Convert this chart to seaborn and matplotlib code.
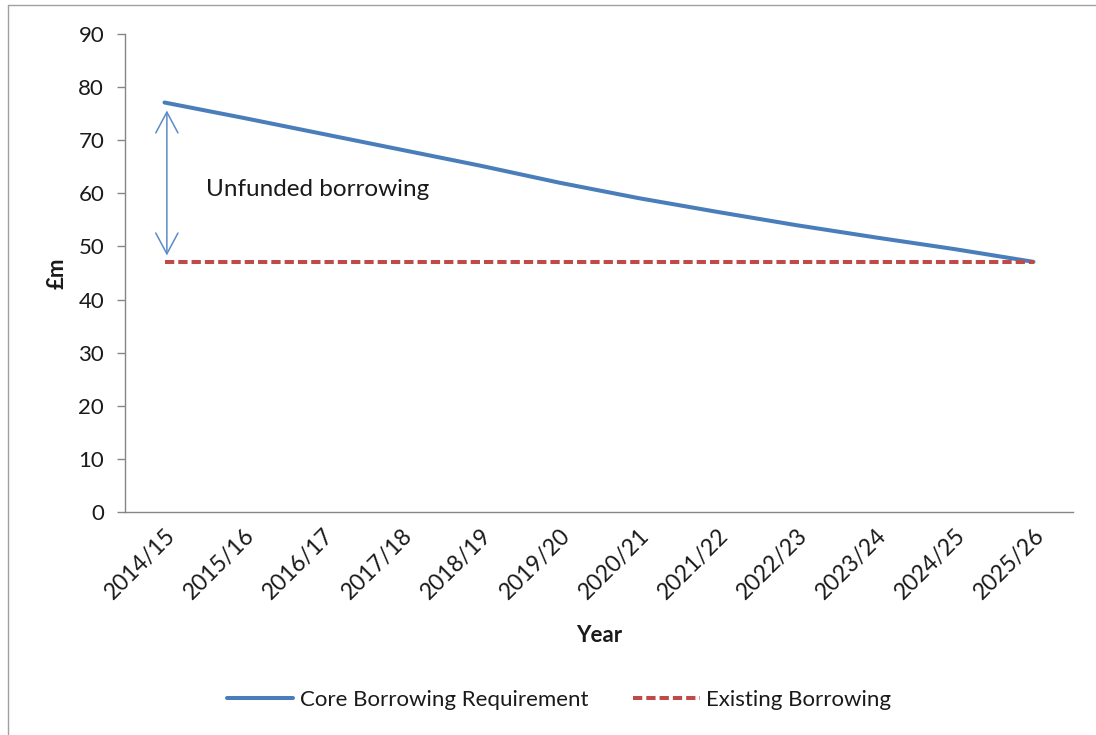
import matplotlib
matplotlib.use("Agg")
import matplotlib.pyplot as plt
import seaborn as sns
import pandas as pd
from matplotlib.lines import Line2D

years = ["2014/15", "2015/16", "2016/17", "2017/18", "2018/19", "2019/20",
         "2020/21", "2021/22", "2022/23", "2023/24", "2024/25", "2025/26"]
core_borrowing = [77.1, 74.2, 71.2, 68.2, 65.2, 62.0, 59.1, 56.5, 54.0, 51.7, 49.5, 47.1]
existing_borrowing = [47.0] * 12
series_names = ["Core Borrowing Requirement", "Existing Borrowing"]
y_ticks = [0, 10, 20, 30, 40, 50, 60, 70, 80, 90]

df = pd.DataFrame({
    "Year": years * 2,
    "Value": core_borrowing + existing_borrowing,
    "Series": [series_names[0]] * 12 + [series_names[1]] * 12,
})

sns.set_style("white")
plt.rcParams["font.family"] = ["Lato", "DejaVu Sans"]

BLUE = "#4A7EBB"
RED = "#BE4B48"
GRID = "#868686"
TXT = "#1a1a1a"

fig = plt.figure(figsize=(10.96, 7.35), dpi=100)
ax = fig.add_axes([125/1096, 1-512/735, (1073-125)/1096, (512-34)/735])

sns.lineplot(data=df, x="Year", y="Value", hue="Series", style="Series",
             palette={series_names[0]: BLUE, series_names[1]: RED},
             dashes={series_names[0]: "", series_names[1]: (2.3, 1.0)},
             linewidth=2.9, legend=False, ax=ax, sort=False)

ax.set_xlim(-0.5, len(years) - 0.5)
ax.set_ylim(0, 90)
ax.set_yticks(y_ticks)
ax.set_xticks(range(len(years)))
ax.set_xticklabels(years, rotation=45, ha="right", rotation_mode="anchor",
                   fontsize=16.5, color=TXT)
ax.set_xticks([i - 0.5 for i in range(len(years) + 1)], minor=True)
ax.tick_params(axis="x", which="major", length=0, pad=9)
ax.tick_params(axis="x", which="minor", length=6, color=GRID, width=1, direction="out")
ax.tick_params(axis="y", length=6, color=GRID, width=1, labelsize=16, pad=9,
               left=True, labelcolor=TXT)

for s in ["top", "right"]:
    ax.spines[s].set_visible(False)
for s in ["left", "bottom"]:
    ax.spines[s].set_color(GRID)
    ax.spines[s].set_linewidth(1)

ax.set_xlabel("Year", fontsize=16, fontweight="bold", labelpad=16, color=TXT)
ax.set_ylabel("£m", fontsize=16, fontweight="bold", labelpad=8, color=TXT)

ax.annotate("", xy=(0.03, 75.6), xytext=(0.03, 48.3),
            arrowprops=dict(arrowstyle="<->,head_length=0.75,head_width=0.4",
                            color="#5B8BC9", lw=1.1, mutation_scale=20,
                            shrinkA=0, shrinkB=0))
ax.text(0.52, 60.8, "Unfunded borrowing", fontsize=17.5, va="center", ha="left",
        color=TXT)

handles = [Line2D([], [], color=BLUE, lw=2.9),
           Line2D([], [], color=RED, lw=2.9, dashes=(2.3, 1.0))]
fig.legend(handles, series_names, loc="center", bbox_to_anchor=(559/1096, 1-700/735),
           ncol=2, frameon=False, fontsize=16, handlelength=3.0,
           columnspacing=2.0, handletextpad=0.3, labelcolor=TXT)

# outer chart border (top and left)
fig.add_artist(Line2D([8/1096, 1], [1-5/735, 1-5/735], color="#A0A0A0", lw=1,
                      transform=fig.transFigure))
fig.add_artist(Line2D([8/1096, 8/1096], [0, 1-5/735], color="#A0A0A0", lw=1,
                      transform=fig.transFigure))

fig.savefig("out.png", dpi=100, facecolor="white")
